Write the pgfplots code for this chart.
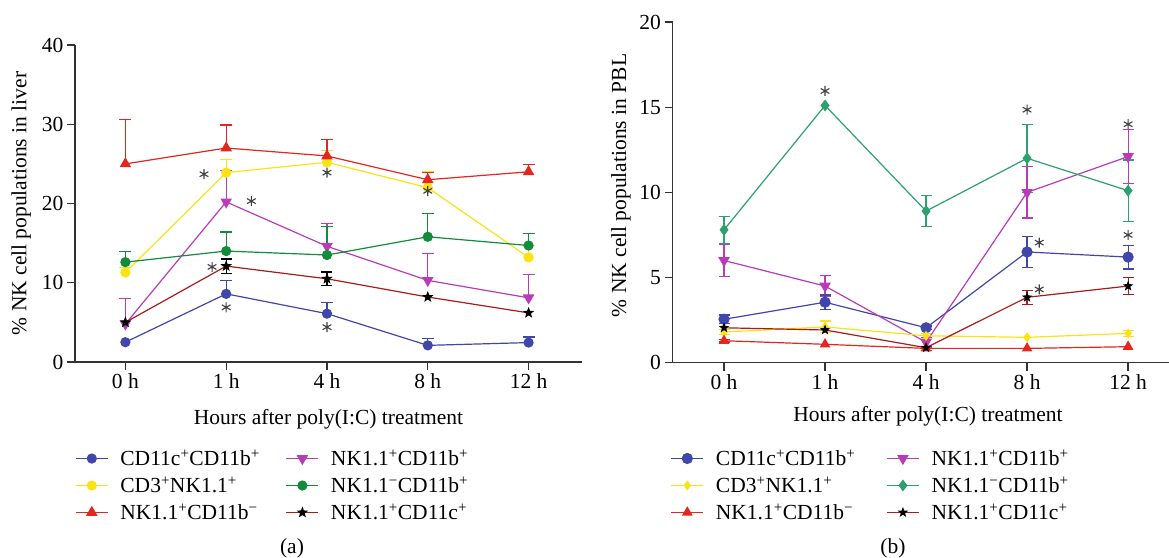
\documentclass[border=0pt]{standalone}
\usepackage{fontspec}
\setmainfont{Liberation Serif}
\usepackage{pgfplots}
\pgfplotsset{compat=1.18}

\definecolor{cblue}{RGB}{63,72,170}
\definecolor{cyellow}{RGB}{250,226,20}
\definecolor{cred}{RGB}{228,38,30}
\definecolor{cmag}{RGB}{184,60,184}
\definecolor{cgreen}{RGB}{18,140,58}
\definecolor{cteal}{RGB}{44,160,110}
\definecolor{cdred}{RGB}{168,28,28}
\definecolor{caxis}{RGB}{50,50,50}

% filled five-pointed star
\pgfdeclareplotmark{fstar}{%
  \pgfpathmoveto{\pgfpointpolar{90}{\pgfplotmarksize}}%
  \pgfpathlineto{\pgfpointpolar{126}{0.42\pgfplotmarksize}}%
  \pgfpathlineto{\pgfpointpolar{162}{\pgfplotmarksize}}%
  \pgfpathlineto{\pgfpointpolar{198}{0.42\pgfplotmarksize}}%
  \pgfpathlineto{\pgfpointpolar{234}{\pgfplotmarksize}}%
  \pgfpathlineto{\pgfpointpolar{270}{0.42\pgfplotmarksize}}%
  \pgfpathlineto{\pgfpointpolar{306}{\pgfplotmarksize}}%
  \pgfpathlineto{\pgfpointpolar{342}{0.42\pgfplotmarksize}}%
  \pgfpathlineto{\pgfpointpolar{18}{\pgfplotmarksize}}%
  \pgfpathlineto{\pgfpointpolar{54}{0.42\pgfplotmarksize}}%
  \pgfpathclose
  \pgfusepathqfill}

\newcommand{\fs}{\fontsize{21.5bp}{25bp}\selectfont}

\pgfplotsset{
  panel/.style={
    scale only axis,
    axis lines=left,
    axis line style={-, draw=caxis, line width=1.3bp},
    tick style={draw=caxis, line width=1.3bp},
    tick align=outside,
    major tick length=8bp,
    xtick={0,1,2,3,4},
    xticklabels={0 h,1 h,4 h,8 h,12 h},
    ymin=0,
    label style={font=\fs},
    tick label style={font=\fs},
    /pgf/number format/assume math mode=true,
    xlabel={Hours after poly(I:C) treatment},
    every axis plot/.append style={line width=1.2bp},
    legend columns=2,
    legend cell align=left,
    legend style={draw=none, fill=none, inner sep=0pt, anchor=north west,
      font=\fs, row sep=5.5bp,
      /tikz/every odd column/.append style={column sep=10bp}},
    legend image code/.code={\draw[mark repeat=2,mark phase=2,##1]
      plot coordinates {(0bp,0bp) (16bp,0bp) (32bp,0bp)};},
  },
  ebp/.style={forget plot, draw=none, mark=none,
    error bars/.cd, y dir=plus, y explicit,
    error bar style={draw=#1, line width=1.2bp, solid},
    error mark options={rotate=90, draw=#1, mark size=6bp, line width=1.2bp}},
  ebb/.style={forget plot, draw=none, mark=none,
    error bars/.cd, y dir=both, y explicit,
    error bar style={draw=#1, line width=1.2bp, solid},
    error mark options={rotate=90, draw=#1, mark size=5.5bp, line width=1.2bp}},
  stars/.style={forget plot, only marks, mark=asterisk, mark size=5bp,
    color=black!75, line width=1.1bp},
}

\begin{document}
\begin{tikzpicture}
\path[use as bounding box] (0,0) rectangle (1169bp,-558bp);

% ---------------- (a) liver ----------------
\begin{axis}[panel,
  at={(75bp,-362bp)}, anchor=south west,
  width=507bp, height=317bp,
  xmin=-0.5, xmax=4.53,
  ymax=40, ytick={0,10,20,30,40},
  ylabel={\% NK cell populations in liver},
  ylabel style={at={(axis description cs:-0.106,0.5)}, anchor=center},
  xlabel style={at={(axis description cs:0.5,-0.18)}, anchor=center},
  legend style={at={(axis description cs:0,-0.27)},
    /tikz/every even column/.append style={column sep=24bp}},
]
% error bars
\addplot[ebp=cblue] coordinates {(1,8.6) += (0,1.7) (2,6.1) += (0,1.45) (3,2.1) += (0,0.85) (4,2.45) += (0,0.7)};
\addplot[ebp=cyellow] coordinates {(0,11.3) += (0,0.6) (1,23.9) += (0,1.7) (2,25.2) += (0,1.5) (3,22.0) += (0,2.0) (4,13.2) += (0,1.5)};
\addplot[ebp=cred] coordinates {(0,25.0) += (0,5.6) (1,27.0) += (0,2.9) (2,26.0) += (0,2.1) (3,23.0) += (0,0.9) (4,24.0) += (0,0.9)};
\addplot[ebp=cmag] coordinates {(0,4.8) += (0,3.2) (1,20.2) += (0,4.0) (2,14.6) += (0,2.9) (3,10.3) += (0,3.4) (4,8.1) += (0,2.9)};
\addplot[ebp=cgreen] coordinates {(0,12.6) += (0,1.3) (1,14.0) += (0,2.4) (2,13.5) += (0,3.6) (3,15.8) += (0,2.9) (4,14.7) += (0,1.5)};
\addplot[ebb=black] coordinates {(1,12.1) +- (0,0.9) (2,10.5) +- (0,0.85)};

% series (row-wise legend order)
\addplot[color=cblue, mark=*, mark size=4.5bp] coordinates {(0,2.5) (1,8.6) (2,6.1) (3,2.1) (4,2.45)};
\addlegendentry{CD11c\textsuperscript{+}CD11b\textsuperscript{+}}
\addplot[color=cmag, mark=triangle*, mark size=5.5bp, mark options={rotate=180}] coordinates {(0,4.8) (1,20.2) (2,14.6) (3,10.3) (4,8.1)};
\addlegendentry{NK1.1\textsuperscript{+}CD11b\textsuperscript{+}}
\addplot[color=cyellow, mark=*, mark size=4.5bp] coordinates {(0,11.3) (1,23.9) (2,25.2) (3,22.0) (4,13.2)};
\addlegendentry{CD3\textsuperscript{+}NK1.1\textsuperscript{+}}
\addplot[color=cgreen, mark=*, mark size=4.5bp] coordinates {(0,12.6) (1,14.0) (2,13.5) (3,15.8) (4,14.7)};
\addlegendentry{NK1.1\textsuperscript{−}CD11b\textsuperscript{+}}
\addplot[color=cred, mark=triangle*, mark size=5.5bp] coordinates {(0,25.0) (1,27.0) (2,26.0) (3,23.0) (4,24.0)};
\addlegendentry{NK1.1\textsuperscript{+}CD11b\textsuperscript{−}}
\addplot[color=cdred, mark=fstar, mark size=6bp, mark options={fill=black}] coordinates {(0,5.0) (1,12.1) (2,10.5) (3,8.2) (4,6.2)};
\addlegendentry{NK1.1\textsuperscript{+}CD11c\textsuperscript{+}}

% significance marks
\addplot[stars] coordinates {(0.78,23.7) (1.25,20.3) (2,23.9) (0.86,12.0) (1,6.9) (2,4.4) (3,21.6)};
\end{axis}

% ---------------- (b) PBL ----------------
\begin{axis}[panel,
  at={(672.5bp,-362.7bp)}, anchor=south west,
  width=496bp, height=340.7bp,
  xmin=-0.51, xmax=4.4,
  ymax=20, ytick={0,5,10,15,20},
  ylabel={\% NK cell populations in PBL},
  ylabel style={at={(axis description cs:-0.104,0.52)}, anchor=center},
  xlabel style={at={(axis description cs:0.515,-0.157)}, anchor=center},
  legend style={at={(axis description cs:-0.004,-0.249)},
    /tikz/every even column/.append style={column sep=29bp}},
]
\addplot[ebb=cteal] coordinates {(0,7.8) +- (0,0.8) (2,8.9) +- (0,0.9) (3,12.0) +- (0,2.0) (4,10.1) +- (0,1.8)};
\addplot[ebb=cmag] coordinates {(0,6.0) +- (0,0.95) (1,4.5) +- (0,0.6) (2,1.2) +- (0,0.3) (3,10.0) +- (0,1.5) (4,12.1) +- (0,1.6)};
\addplot[ebb=cblue] coordinates {(0,2.55) +- (0,0.25) (1,3.55) +- (0,0.42) (2,2.05) +- (0,0.1) (3,6.5) +- (0,0.9) (4,6.2) +- (0,0.7)};
\addplot[ebb=cdred] coordinates {(3,3.84) +- (0,0.42) (4,4.5) +- (0,0.48)};
\addplot[ebb=cyellow] coordinates {(0,1.8) +- (0,0.15) (1,2.1) +- (0,0.35) (2,1.58) +- (0,0.15) (4,1.72) +- (0,0.18)};
\addplot[ebb=cred] coordinates {(0,1.29) +- (0,0.08) (2,0.84) +- (0,0.1)};

\addplot[color=cblue, mark=*, mark size=5bp] coordinates {(0,2.55) (1,3.55) (2,2.05) (3,6.5) (4,6.2)};
\addlegendentry{CD11c\textsuperscript{+}CD11b\textsuperscript{+}}
\addplot[color=cmag, mark=triangle*, mark size=5.5bp, mark options={rotate=180}] coordinates {(0,6.0) (1,4.5) (2,1.2) (3,10.0) (4,12.1)};
\addlegendentry{NK1.1\textsuperscript{+}CD11b\textsuperscript{+}}
\addplot[color=cyellow, mark=diamond*, mark size=4bp] coordinates {(0,1.8) (1,2.1) (2,1.58) (3,1.49) (4,1.72)};
\addlegendentry{CD3\textsuperscript{+}NK1.1\textsuperscript{+}}
\addplot[color=cteal, mark=diamond*, mark size=5bp] coordinates {(0,7.8) (1,15.1) (2,8.9) (3,12.0) (4,10.1)};
\addlegendentry{NK1.1\textsuperscript{−}CD11b\textsuperscript{+}}
\addplot[color=cred, mark=triangle*, mark size=5bp] coordinates {(0,1.29) (1,1.08) (2,0.84) (3,0.84) (4,0.94)};
\addlegendentry{NK1.1\textsuperscript{+}CD11b\textsuperscript{−}}
\addplot[color=cdred, mark=fstar, mark size=5.5bp, mark options={fill=black}] coordinates {(0,2.05) (1,1.92) (2,0.88) (3,3.84) (4,4.5)};
\addlegendentry{NK1.1\textsuperscript{+}CD11c\textsuperscript{+}}

\addplot[stars] coordinates {(1,15.95) (3,14.85) (4,14.0) (3.12,7.05) (4,7.5) (3.12,4.3)};
\end{axis}

\node[font=\fs] at (292bp,-548bp) {(a)};
\node[font=\fs] at (893bp,-548bp) {(b)};
\end{tikzpicture}
\end{document}
